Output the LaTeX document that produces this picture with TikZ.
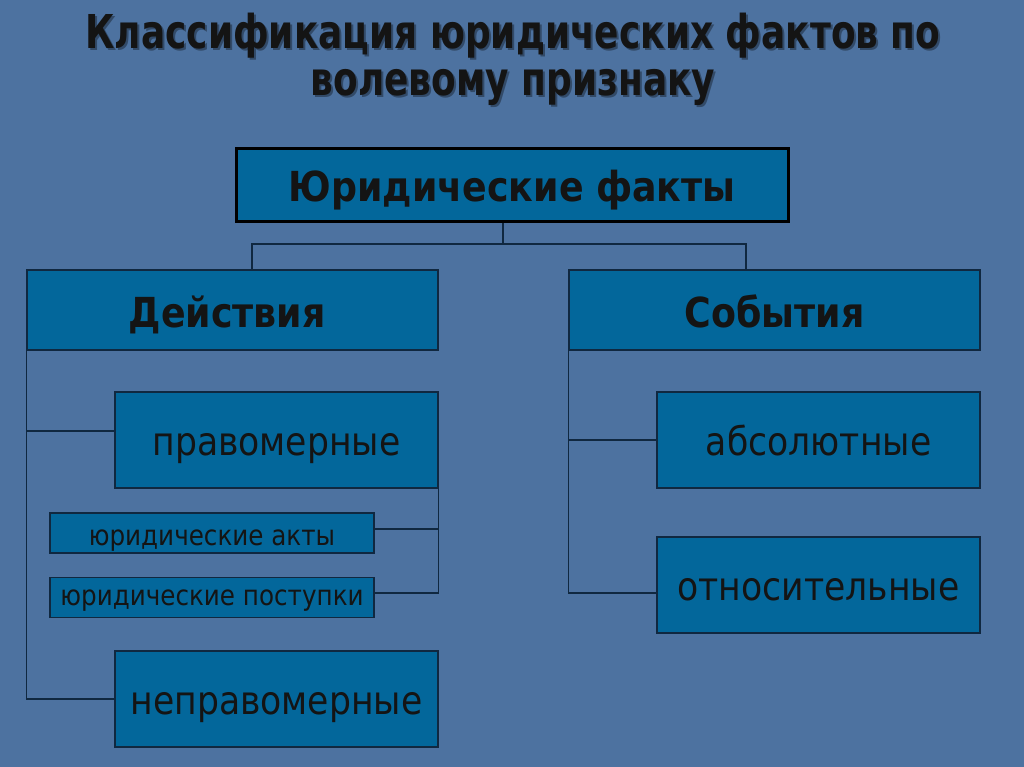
\documentclass[tikz,border=0pt]{standalone}
\usepackage{fontspec}
\setmainfont[FakeStretch=0.88]{DejaVu Sans}
\newfontfamily\titlefont[FakeStretch=0.77]{DejaVu Sans}
\definecolor{bg}{HTML}{4D72A0}
\definecolor{boxfill}{HTML}{03679B}
\definecolor{ink}{HTML}{141414}
\definecolor{edge}{HTML}{102840}
\tikzset{
  box/.style={draw=edge, line width=0.8pt, fill=boxfill, rectangle, inner sep=0pt, text=ink, text depth=0pt},
  bigbox/.style={box, minimum width=242.25pt, minimum height=72pt, text height=22.5pt, font=\fontsize{29.5}{32}\selectfont},
  smallbox/.style={box, minimum width=243pt, minimum height=30pt, text height=18pt, font=\fontsize{21}{24}\selectfont},
  headbox/.style={box, minimum width=308.25pt, minimum height=60pt, text height=25.5pt, font=\bfseries\fontsize{31}{34}\selectfont},
  topbox/.style={box, draw=black, line width=2.25pt, minimum width=414pt, minimum height=54.75pt, text height=24.8pt, font=\bfseries\fontsize{31}{34}\selectfont},
  conn/.style={draw=edge, line width=0.8pt},
  ttl/.style={align=center, font=\titlefont\bfseries\fontsize{35}{35}\selectfont}
}
\begin{document}
\begin{tikzpicture}[x=0.75pt,y=-0.75pt]
\fill[bg] (0,0) rectangle (1024,767);
\useasboundingbox (0,0) rectangle (1024,767);
% title
\node[ttl, text=black, opacity=0.35] (titleshadow) at (515,61) {Классификация юридических фактов по\\волевому признаку};
\node[ttl, text=ink] (title) at (513,59) {Классификация юридических фактов по\\волевому признаку};
% boxes
\node[topbox] (top) at (512,184.5) {Юридические факты};
\node[headbox] (act) at (232.5,310) {\hspace*{-8pt}Действия};
\node[headbox] (ev) at (774.5,310) {События};
\node[bigbox] (prav) at (276.5,440) {правомерные};
\node[smallbox] (akty) at (212,533) {юридические акты};
\node[smallbox, text height=11.25pt] (post) at (212,597.5) {юридические поступки};
\node[bigbox] (nepr) at (276.5,699) {неправомерные};
\node[bigbox] (abs) at (818.5,440) {абсолютные};
\node[bigbox] (otn) at (818.5,585) {относительные};
% connectors
\coordinate (j) at (503,244);
\draw[conn] (top.south -| j) -- (j);
\draw[conn] (j) -| ([xshift=14.6pt]act.north);
\draw[conn] (j) -| ([xshift=-21.4pt]ev.north);
\draw[conn] (act.south west) |- (nepr.west);
\draw[conn] ([yshift=6.75pt]act.south west |- prav.west) -- ([yshift=6.75pt]prav.west);
\draw[conn] (prav.south east) |- ([yshift=3pt]akty.east);
\draw[conn] (prav.south east) |- ([yshift=3.4pt]post.east);
\draw[conn] (ev.south west) |- ([yshift=-6pt]otn.west);
\draw[conn] (ev.south west |- abs.west) -- (abs.west);
\end{tikzpicture}
\end{document}
